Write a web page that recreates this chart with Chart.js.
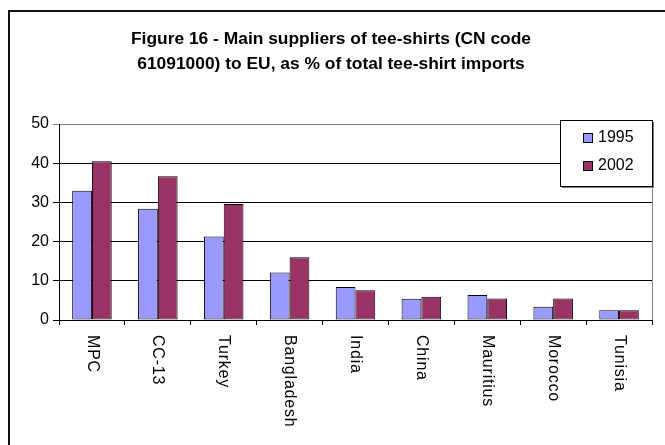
<!DOCTYPE html>
<html>
<head>
<meta charset="utf-8">
<script src="https://cdn.jsdelivr.net/npm/chart.js@4/dist/chart.umd.min.js"></script>
<style>
  html, body { margin: 0; padding: 0; background: #fff; }
  canvas { display: block; }
</style>
</head>
<body>
<canvas id="chart" width="665" height="445"></canvas>
<script>
// Dados (% das importações de t-shirts)
var categories = ['MPC', 'CC-13', 'Turkey', 'Bangladesh', 'India', 'China', 'Mauritius', 'Morocco', 'Tunisia'];
var values1995 = [33, 28.4, 21.3, 12.1, 8.4, 5.4, 6.4, 3.4, 2.5];
var values2002 = [40.5, 36.7, 29.6, 16, 7.6, 5.9, 5.5, 5.5, 2.5];
var seriesLabels = ['1995', '2002'];
var seriesColors = ['#9999FF', '#993366'];
var yTickValues = [0, 10, 20, 30, 40, 50];
var titleLines = [
  'Figure 16 - Main suppliers of tee-shirts (CN code',
  '61091000) to EU, as % of total tee-shirt imports'
];

var fontFamily = '"Liberation Sans", Arial, sans-serif';

// Moldura, borda direita cinza, rótulos do eixo x rotacionados e legenda
var framePlugin = {
  id: 'frame',
  beforeDraw: function (chart) {
    var ctx = chart.ctx;
    ctx.save();
    ctx.fillStyle = '#fff';
    ctx.fillRect(0, 0, chart.width, chart.height);
    ctx.fillStyle = '#111';
    ctx.fillRect(8, 10, 2, chart.height);
    ctx.fillRect(8, 10, chart.width, 2);
    ctx.restore();
  },
  afterDraw: function (chart) {
    var ctx = chart.ctx;
    var area = chart.chartArea;
    var xScale = chart.scales.x;

    ctx.save();
    // borda direita da área do gráfico
    ctx.strokeStyle = '#808080';
    ctx.lineWidth = 1;
    ctx.beginPath();
    ctx.moveTo(Math.round(area.right) + 0.5, area.top);
    ctx.lineTo(Math.round(area.right) + 0.5, area.bottom);
    ctx.stroke();

    // rótulos das categorias, lidos de cima para baixo
    ctx.fillStyle = '#000';
    ctx.font = '16px ' + fontFamily;
    ctx.textAlign = 'left';
    ctx.textBaseline = 'middle';
    ctx.letterSpacing = '0.8px';
    categories.forEach(function (label, i) {
      var x = xScale.getPixelForValue(i);
      ctx.save();
      ctx.translate(x, area.bottom + 15);
      ctx.rotate(Math.PI / 2);
      ctx.fillText(label, 0, 0);
      ctx.restore();
    });
    ctx.letterSpacing = '0px';

    // legenda com caixa e sombra
    var lx = 560, ly = 120, lw = 92, lh = 66;
    ctx.fillStyle = '#808080';
    ctx.fillRect(lx + 2, ly + 2, lw, lh);
    ctx.fillStyle = '#fff';
    ctx.fillRect(lx, ly, lw, lh);
    ctx.strokeStyle = '#000';
    ctx.strokeRect(lx + 0.5, ly + 0.5, lw, lh);
    chart.data.datasets.forEach(function (ds, i) {
      var cy = ly + 18 + i * 28;
      ctx.fillStyle = ds.backgroundColor;
      ctx.fillRect(583, cy - 5, 10, 10);
      ctx.strokeStyle = '#000';
      ctx.strokeRect(583.5, cy - 4.5, 9, 9);
      ctx.fillStyle = '#000';
      ctx.fillText(ds.label, 598, cy);
    });
    ctx.restore();
  }
};

var ctxBar = document.getElementById('chart').getContext('2d');
var chart = new Chart(ctxBar, {
  type: 'bar',
  data: {
    labels: categories,
    datasets: [{
      label: seriesLabels[0],
      data: values1995,
      backgroundColor: seriesColors[0],
      borderColor: '#000',
      borderWidth: 1,
      borderSkipped: false
    }, {
      label: seriesLabels[1],
      data: values2002,
      backgroundColor: seriesColors[1],
      borderColor: '#000',
      borderWidth: 1,
      borderSkipped: false
    }]
  },
  options: {
    responsive: false,
    animation: false,
    devicePixelRatio: 1,
    layout: { padding: { left: 10, right: 13, top: 0, bottom: 0 } },
    datasets: {
      bar: { categoryPercentage: 0.6, barPercentage: 1.0 }
    },
    plugins: {
      legend: { display: false },
      tooltip: { enabled: false },
      title: {
        display: true,
        text: titleLines,
        color: '#000',
        font: { family: fontFamily, size: 17.4, weight: 'bold', lineHeight: '25px' },
        padding: { top: 27, bottom: 47 }
      }
    },
    scales: {
      x: {
        ticks: { display: false },
        grid: {
          offset: true,
          drawOnChartArea: false,
          drawTicks: true,
          tickLength: 5,
          color: '#000'
        },
        border: { color: '#000', width: 1 },
        afterFit: function (scale) { scale.height = 125; }
      },
      y: {
        min: 0,
        max: 50,
        afterBuildTicks: function (scale) {
          scale.ticks = yTickValues.map(function (v) { return { value: v }; });
        },
        ticks: {
          color: '#000',
          padding: 4,
          font: { family: fontFamily, size: 16 }
        },
        grid: {
          tickLength: 6,
          color: function (c) { return c.tick && c.tick.value === 50 ? '#808080' : '#000'; }
        },
        border: { color: '#000', width: 1 },
        afterFit: function (scale) { scale.width = 49; }
      }
    }
  },
  plugins: [framePlugin]
});
</script>
</body>
</html>
